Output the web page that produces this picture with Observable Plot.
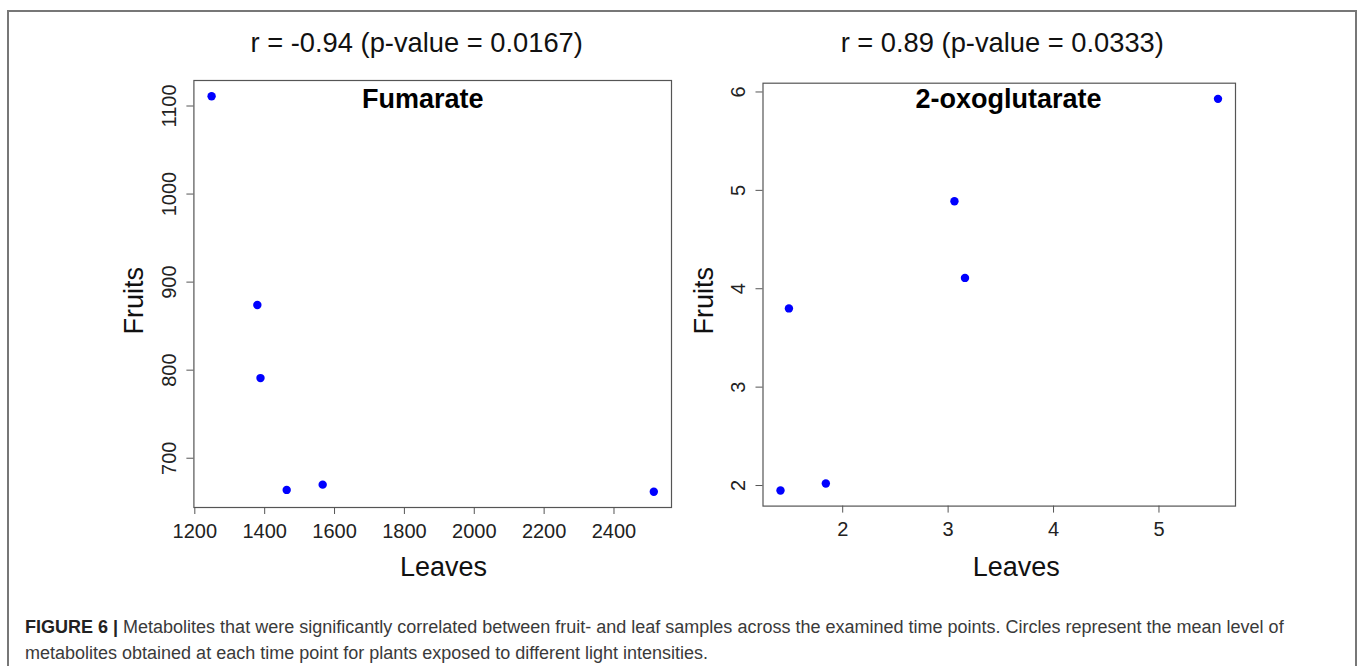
<!DOCTYPE html>
<html>
<head>
<meta charset="utf-8">
<script src="https://cdn.jsdelivr.net/npm/d3@7"></script>
<script src="https://cdn.jsdelivr.net/npm/@observablehq/plot@0.6"></script>
<style>
  html, body { margin: 0; padding: 0; background: #fff; }
  #page { position: relative; width: 1357px; height: 666px; overflow: hidden; font-family: "Liberation Sans", Arial, sans-serif; }
  #border { position: absolute; left: 7px; top: 10px; width: 1346px; height: 720px; border: 2px solid #777; border-bottom: none; }
  .panel { position: absolute; }
  #caption { position: absolute; left: 25px; top: 614px; font-size: 18px; line-height: 26px; color: #3a3a3a; white-space: nowrap; }
  #caption b { color: #222; }
</style>
</head>
<body>
<div id="page">
  <div id="border"></div>
  <div id="left" class="panel" style="left:100px; top:15px;"></div>
  <div id="right" class="panel" style="left:690px; top:15px;"></div>
  <div id="caption"><b>FIGURE 6 |</b> Metabolites that were significantly correlated between fruit- and leaf samples across the examined time points. Circles represent the mean level of<br>metabolites obtained at each time point for plants exposed to different light intensities.</div>
</div>
<script>
// ---- Data ----
const fumarateLeaves = [1248, 1379, 1388, 1463, 1566, 2514];
const fumarateFruits = [1111, 874, 791, 664, 670, 662];
const oxoLeaves = [1.41, 1.49, 1.84, 3.06, 3.16, 5.56];
const oxoFruits = [1.95, 3.80, 2.02, 4.89, 4.11, 5.93];

const fumarateXTicks = [1200, 1400, 1600, 1800, 2000, 2200, 2400];
const fumarateYTicks = [700, 800, 900, 1000, 1100];
const oxoXTicks = [2, 3, 4, 5];
const oxoYTicks = [2, 3, 4, 5, 6];

const leftTitle = "r = -0.94 (p-value = 0.0167)";
const rightTitle = "r = 0.89 (p-value = 0.0333)";
const leftName = "Fumarate";
const rightName = "2-oxoglutarate";
const xName = "Leaves";
const yName = "Fruits";

// R-style axis range: data range extended by 4% on each side
function rRange(v) {
  const [a, b] = d3.extent(v);
  const p = (b - a) * 0.04;
  return [a - p, b + p];
}

const FONT = "Liberation Sans, Arial, sans-serif";

function panel(opts) {
  const data = opts.xs.map((x, i) => ({x, y: opts.ys[i]}));
  return Plot.plot({
    width: opts.width,
    height: opts.height,
    marginLeft: opts.ml,
    marginTop: opts.mt,
    marginRight: opts.mr,
    marginBottom: opts.mb,
    style: {fontFamily: FONT, background: "transparent", overflow: "visible"},
    x: {domain: rRange(opts.xs)},
    y: {domain: rRange(opts.ys)},
    marks: [
      Plot.frame({stroke: "#555", strokeWidth: 1.2}),
      Plot.axisX({ticks: opts.xTicks, tickSize: 7, tickPadding: 9, fontSize: 20, label: null, stroke: "#555", color: "#222", tickFormat: d => String(d)}),
      Plot.axisY({ticks: opts.yTicks, tickSize: 7, tickPadding: 11, tickRotate: -90, fontSize: 20, label: null, stroke: "#555", color: "#222", tickFormat: d => String(d)}),
      Plot.dot(data, {x: "x", y: "y", r: 4.2, fill: "#0000ff", stroke: null}),
      Plot.text([opts.title], {frameAnchor: "top", textAnchor: "middle", dx: opts.titleDx, dy: opts.titleDy, text: d => d, fontSize: 27.3, fill: "#111", lineAnchor: "middle"}),
      Plot.text([opts.name], {frameAnchor: "top", textAnchor: "middle", dx: opts.nameDx, dy: opts.nameDy, text: d => d, fontSize: 27, fontWeight: "bold", fill: "#000", lineAnchor: "middle"}),
      Plot.text([xName], {frameAnchor: "bottom", textAnchor: "middle", dx: opts.xlabDx, dy: opts.xlabDy, text: d => d, fontSize: 27, fill: "#111", lineAnchor: "middle"}),
      Plot.text([yName], {frameAnchor: "left", textAnchor: "middle", dx: opts.ylabDx, dy: opts.ylabDy, rotate: -90, text: d => d, fontSize: 27, fill: "#111", lineAnchor: "middle"})
    ]
  });
}

document.getElementById("left").appendChild(panel({
  xs: fumarateLeaves, ys: fumarateFruits,
  xTicks: fumarateXTicks, yTicks: fumarateYTicks,
  width: 590, height: 585, ml: 93.4, mt: 65, mr: 19, mb: 93,
  title: leftTitle, titleDx: -16, titleDy: -37.3,
  name: leftName, nameDx: -10, nameDy: 18.4,
  xlabDx: 10.8, xlabDy: 60.2,
  ylabDx: -59.7, ylabDy: 6.7
}));

document.getElementById("right").appendChild(panel({
  xs: oxoLeaves, ys: oxoFruits,
  xTicks: oxoXTicks, yTicks: oxoYTicks,
  width: 600, height: 585, ml: 72.5, mt: 67.7, mr: 55, mb: 94.4,
  title: rightTitle, titleDx: 3, titleDy: -40,
  name: rightName, nameDx: 9.3, nameDy: 15.7,
  xlabDx: 17, xlabDy: 61.6,
  ylabDx: -58.2, ylabDy: 6
}));
</script>
</body>
</html>
